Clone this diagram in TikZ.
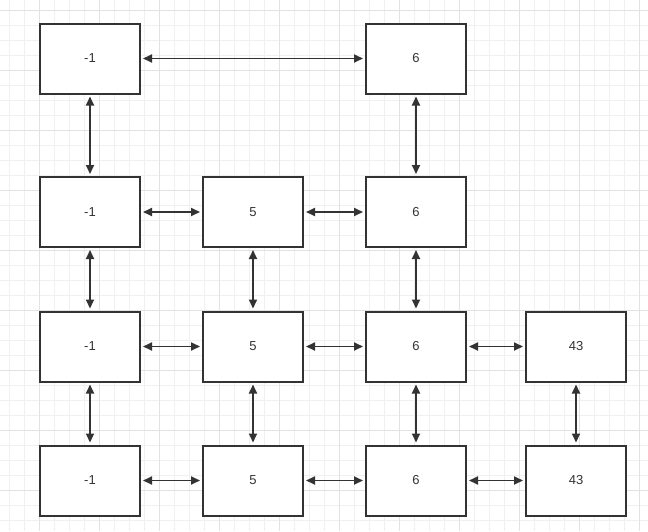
\documentclass[tikz,border=0pt]{standalone}
\usepackage{fontspec}
\setmainfont{Liberation Sans}
\usetikzlibrary{arrows.meta}
\definecolor{ink}{HTML}{333333}
\definecolor{gridminor}{HTML}{F0F0F0}
\definecolor{gridmajor}{HTML}{E2E2E2}
\tikzset{
  cell/.style={draw=ink, line width=2pt, fill=white, minimum width=100pt, minimum height=70pt, inner sep=0pt, text=ink, font=\fontsize{13}{15}\selectfont},
  link/.style={draw=ink, line width=1.8pt, {Triangle[length=9pt,width=8pt]}-{Triangle[length=9pt,width=8pt]}, shorten <=2pt, shorten >=2pt}
}
\begin{document}
\begin{tikzpicture}[x=1pt,y=-1pt]
\useasboundingbox (0,0) rectangle (648,531);
\fill[white] (0,0) rectangle (648,531);
% grid
\foreach \k in {0,...,43} {
  \draw[gridminor, line width=0.8pt] ({9.3+15*\k},0) -- ({9.3+15*\k},531);
}
\foreach \k in {0,...,35} {
  \draw[gridminor, line width=0.8pt] (0,{10+15*\k}) -- (648,{10+15*\k});
}
\foreach \k in {0,...,10} {
  \draw[gridmajor, line width=0.8pt] ({39.3+60*\k},0) -- ({39.3+60*\k},531);
}
\foreach \k in {0,...,8} {
  \draw[gridmajor, line width=0.8pt] (0,{10+60*\k}) -- (648,{10+60*\k});
}
% boxes
\node[cell] (a1) at (90,58.5) {-1};
\node[cell] (a3) at (416,58.5) {6};
\node[cell] (b1) at (90,212) {-1};
\node[cell] (b2) at (253,212) {5};
\node[cell] (b3) at (416,212) {6};
\node[cell] (c1) at (90,346.5) {-1};
\node[cell] (c2) at (253,346.5) {5};
\node[cell] (c3) at (416,346.5) {6};
\node[cell] (c4) at (576,346.5) {43};
\node[cell] (d1) at (90,480.5) {-1};
\node[cell] (d2) at (253,480.5) {5};
\node[cell] (d3) at (416,480.5) {6};
\node[cell] (d4) at (576,480.5) {43};
% horizontal links
\draw[link] (a1) -- (a3);
\draw[link] (b1) -- (b2);
\draw[link] (b2) -- (b3);
\draw[link] (c1) -- (c2);
\draw[link] (c2) -- (c3);
\draw[link] (c3) -- (c4);
\draw[link] (d1) -- (d2);
\draw[link] (d2) -- (d3);
\draw[link] (d3) -- (d4);
% vertical links
\draw[link] (a1) -- (b1);
\draw[link] (a3) -- (b3);
\draw[link] (b1) -- (c1);
\draw[link] (b2) -- (c2);
\draw[link] (b3) -- (c3);
\draw[link] (c1) -- (d1);
\draw[link] (c2) -- (d2);
\draw[link] (c3) -- (d3);
\draw[link] (c4) -- (d4);
\end{tikzpicture}
\end{document}
